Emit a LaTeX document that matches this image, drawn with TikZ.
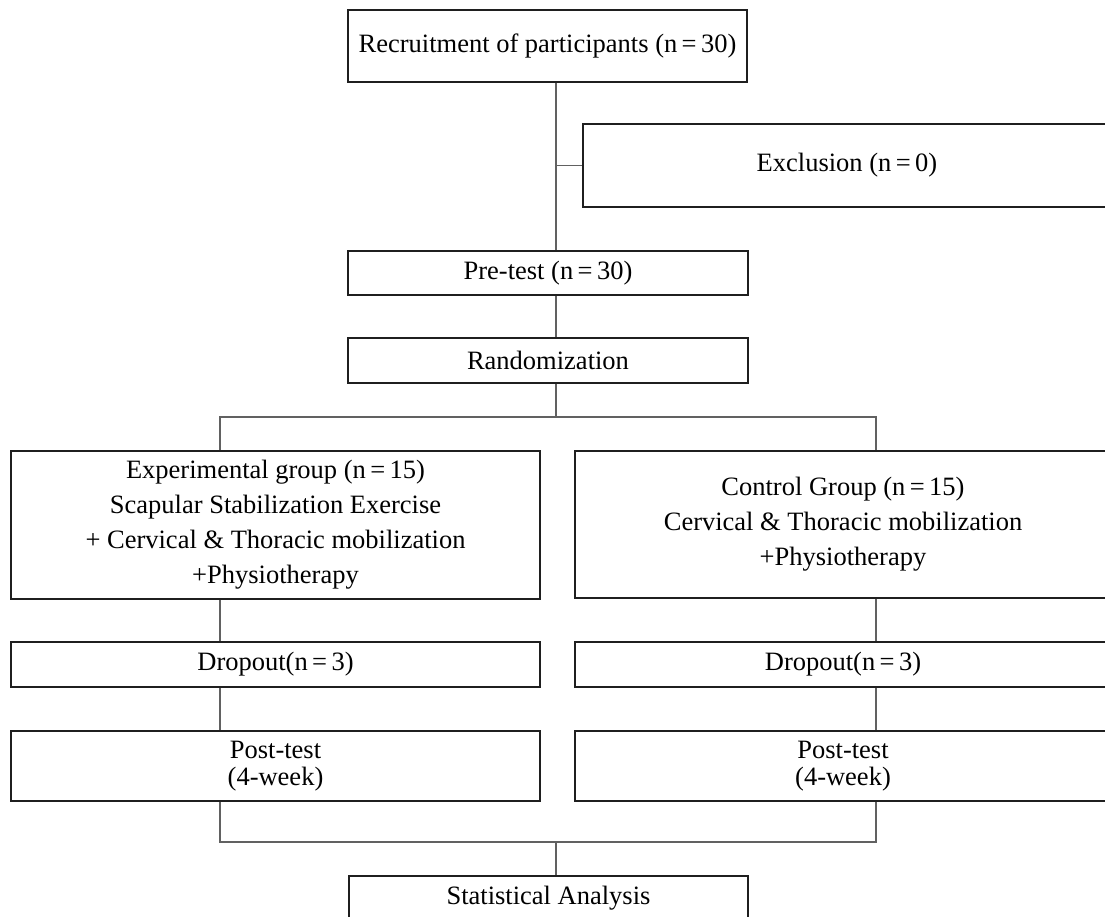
\documentclass[tikz,border=0pt]{standalone}
\usepackage{fontspec}
\setmainfont{Liberation Serif}
\newcommand{\eqn}[1]{(n\,=\,#1)}
\begin{document}
\begin{tikzpicture}[x=1pt,y=-1pt,
  box/.style={draw=black!88, line width=1.6pt, inner sep=0pt, align=center,
    font=\fontsize{26.5}{35}\selectfont},
  tight/.style={font=\fontsize{26.5}{27}\selectfont},
  conn/.style={draw=black!62, line width=1.2pt}]
\useasboundingbox (0,0) rectangle (1105,916);
\clip (0,0) rectangle (1105,916);
\fill[white] (0,0) rectangle (1105,916);

\coordinate (tk) at (556,0);
\coordinate (lx) at (220,0);
\coordinate (rx) at (876,0);
\coordinate (sp1) at (556,417);
\coordinate (sp2) at (556,842);

\node[box, minimum width=399pt, minimum height=72pt] (rec) at (547.5,46) {Recruitment of participants \eqn{30}};
\node[box, minimum width=528pt, minimum height=83pt] (excl) at (847,165.5) {Exclusion \eqn{0}};
\node[box, minimum width=400pt, minimum height=44pt] (pre) at (548,273) {Pre-test \eqn{30}};
\node[box, minimum width=400pt, minimum height=45pt] (rand) at (548,360.5) {Randomization};

\node[box, minimum width=529pt, minimum height=148pt] (exp) at (275.5,525) {Experimental group \eqn{15}\\Scapular Stabilization Exercise\\+ Cervical \& Thoracic mobilization\\+Physiotherapy};
\node[box, minimum width=536pt, minimum height=147pt] (ctl) at (843,524.5) {Control Group \eqn{15}\\Cervical \& Thoracic mobilization\\+Physiotherapy};

\node[box, minimum width=529pt, minimum height=45pt] (dropL) at (275.5,664.5) {Dropout\eqn{3}};
\node[box, minimum width=536pt, minimum height=45pt] (dropR) at (843,664.5) {Dropout\eqn{3}};

\node[box, tight, minimum width=529pt, minimum height=70pt] (postL) at (275.5,766) {Post-test\\(4-week)};
\node[box, tight, minimum width=536pt, minimum height=70pt] (postR) at (843,766) {Post-test\\(4-week)};

\node[box, minimum width=399pt, minimum height=44pt] (stat) at (548.5,898) {Statistical Analysis};

% connectors
\draw[conn] (rec.south -| tk) -- (pre.north -| tk);
\draw[conn] (tk |- excl.west) -- (excl.west);
\draw[conn] (pre.south -| tk) -- (rand.north -| tk);
\draw[conn] (rand.south -| tk) -- (sp1);
\draw[conn] (exp.north -| lx) -- (lx |- sp1) -- (rx |- sp1) -- (ctl.north -| rx);
\draw[conn] (exp.south -| lx) -- (dropL.north -| lx);
\draw[conn] (dropL.south -| lx) -- (postL.north -| lx);
\draw[conn] (ctl.south -| rx) -- (dropR.north -| rx);
\draw[conn] (dropR.south -| rx) -- (postR.north -| rx);
\draw[conn] (postL.south -| lx) -- (lx |- sp2) -- (rx |- sp2) -- (postR.south -| rx);
\draw[conn] (sp2) -- (stat.north -| tk);
\end{tikzpicture}
\end{document}
